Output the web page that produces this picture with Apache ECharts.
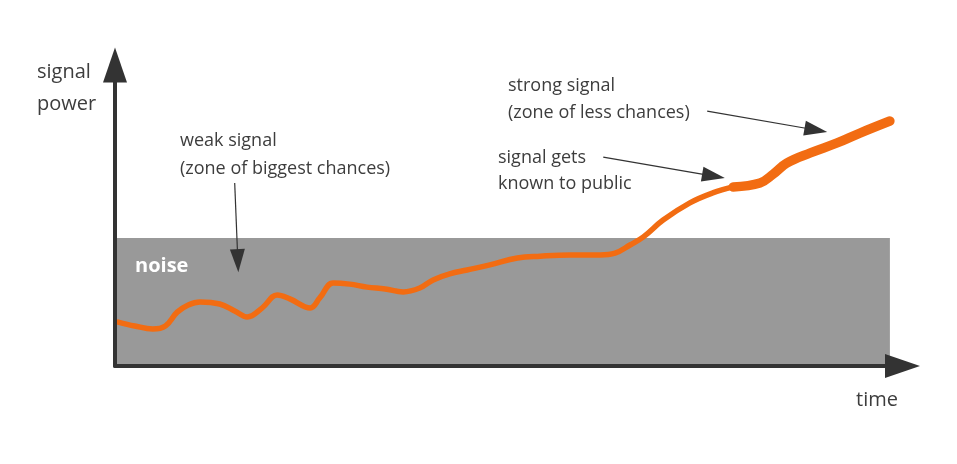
<!DOCTYPE html>
<html>
<head>
<meta charset="utf-8">
<title>signal vs noise</title>
<script src="https://cdn.jsdelivr.net/npm/echarts@6/dist/echarts.min.js"></script>
<style>
  html, body { margin: 0; padding: 0; background: #fff; }
  #chart { width: 957px; height: 464px; }
</style>
</head>
<body>
<div id="chart"></div>
<script>
// weak part of the signal (thin line)
const weakTime = [0.4, 2.5, 4.8, 6.4, 7.9, 9.3, 10.8, 13.3, 15.2, 16.8, 18.7, 20.6, 22.2, 24.8, 26.0, 27.7,
  29.8, 32.0, 34.3, 36.6, 38.7, 40.4, 42.5, 44.7, 47.6, 51.1, 54.0, 57.8, 61.6, 63.5, 65.4, 67.1,
  69.6, 73.0, 75.9, 78.5];
const weakPower = [14.6, 13.3, 12.3, 13.3, 17.9, 20.3, 21.3, 20.6, 18.3, 16.3, 19.3, 23.6, 22.3, 19.3, 22.6, 27.6,
  27.2, 26.2, 25.6, 24.6, 25.9, 28.6, 30.6, 31.9, 33.6, 35.9, 36.5, 36.9, 36.9, 37.5, 40.2, 42.9,
  48.5, 54.2, 57.5, 59.5];

// strong part of the signal (thick line)
const strongTime = [78.5, 81.9, 83.6, 85.3, 88.3, 91.7, 94.6, 98.4];
const strongPower = [59.5, 60.8, 63.8, 67.4, 70.8, 74.1, 77.4, 81.4];

// noise zone
const noiseEnd = 98.4;
const noiseLevel = 42.5;

// annotation arrows: [fromTime, fromPower, toTime, toPower]
const arrows = [
  [15.2, 60.8, 15.6, 35.0],
  [75.2, 84.7, 89.0, 78.4],
  [62.0, 69.4, 76.0, 63.1]
];

const yName = 'signal\npower';
const xName = 'time';
const noiseName = 'noise';
const notes = ['weak signal\n(zone of biggest chances)', 'strong signal\n(zone of less chances)', 'signal gets\nknown to public'];

const textColor = '#3d3d3d';
const font = '"Open Sans", sans-serif';

const chart = echarts.init(document.getElementById('chart'));

function makeAxis() {
  return {
    type: 'value', min: 0, max: 100,
    z: 5,
    axisLine: {
      symbol: ['none', 'triangle'],
      symbolSize: [24, 35],
      lineStyle: { color: '#333', width: 4 }
    },
    axisTick: { show: false },
    axisLabel: { show: false },
    splitLine: { show: false }
  };
}

const option = {
  animation: false,
  grid: { left: 115, right: 54.5, top: 65, bottom: 98, outerBoundsMode: 'none' },
  xAxis: makeAxis(),
  yAxis: makeAxis(),
  graphic: [
    { type: 'text', x: 37, y: 56, style: { text: yName, font: '20px ' + font, fill: textColor, lineHeight: 32 } },
    { type: 'text', x: 856, y: 400, style: { text: xName, font: '20px ' + font, fill: textColor, verticalAlign: 'middle' } },
    { type: 'text', x: 180, y: 127, style: { text: notes[0], font: '18px ' + font, fill: textColor, lineHeight: 28 } },
    { type: 'text', x: 508, y: 72, style: { text: notes[1], font: '18px ' + font, fill: textColor, lineHeight: 27 } },
    { type: 'text', x: 498, y: 145, style: { text: notes[2], font: '18px ' + font, fill: textColor, lineHeight: 26 } }
  ],
  series: [
    {
      name: 'noise',
      type: 'line',
      data: [],
      z: 1,
      silent: true,
      markArea: {
        silent: true,
        itemStyle: { color: '#999999' },
        label: {
          show: true, position: [20, 18],
          color: '#fff', fontFamily: font, fontWeight: 'bold', fontSize: 20
        },
        data: [[{ name: noiseName, coord: [0, 0] }, { coord: [noiseEnd, noiseLevel] }]]
      },
      markLine: {
        silent: true,
        symbol: ['none', 'triangle'],
        symbolSize: [15, 23],
        label: { show: false },
        lineStyle: { color: '#333', width: 1.2, type: 'solid' },
        data: arrows.map(a => [{ coord: [a[0], a[1]] }, { coord: [a[2], a[3]] }])
      }
    },
    {
      name: 'weak signal',
      type: 'line',
      data: weakTime.map((t, i) => [t, weakPower[i]]),
      smooth: 0.4,
      showSymbol: false,
      z: 3,
      lineStyle: { color: '#f26c12', width: 5.5, cap: 'round' }
    },
    {
      name: 'strong signal',
      type: 'line',
      data: strongTime.map((t, i) => [t, strongPower[i]]),
      smooth: 0.4,
      showSymbol: false,
      z: 3,
      lineStyle: { color: '#f26c12', width: 9.5, cap: 'round' }
    }
  ]
};

chart.setOption(option);
</script>
</body>
</html>
